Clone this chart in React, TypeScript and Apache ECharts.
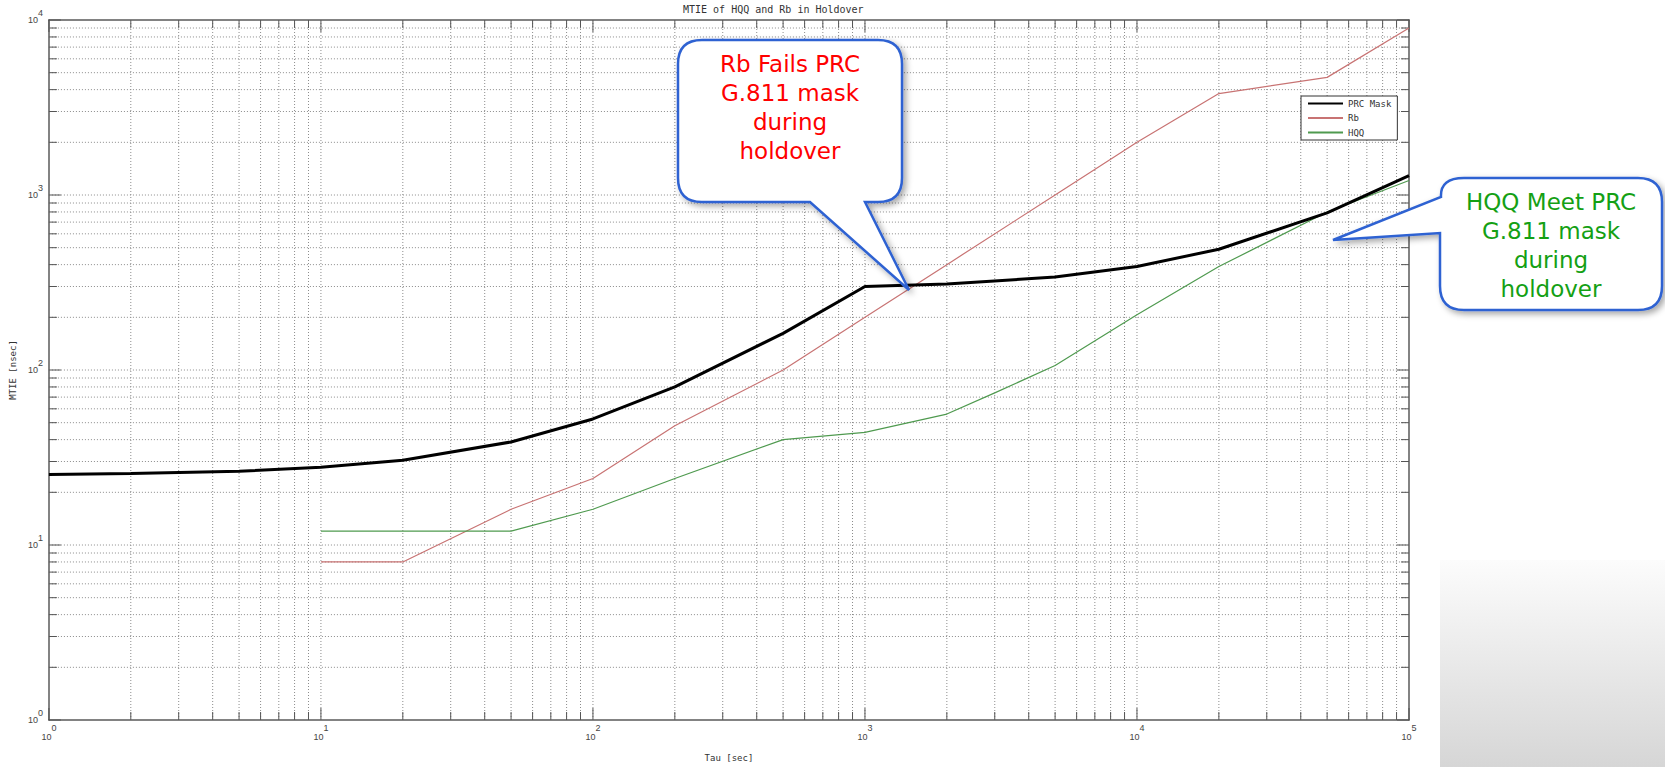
import { useEffect, useRef } from "react";
import * as echarts from "echarts";

// ---- data ----
const PRC_TAU = [1, 2, 5, 10, 20, 50, 100, 200, 500, 1000, 2000, 5000, 10000, 20000, 50000, 100000];
const PRC_MTIE = [25.3, 25.6, 26.4, 27.8, 30.5, 38.8, 52.5, 80, 162, 300, 310, 340, 390, 490, 790, 1290];

const RB_TAU = [10, 20, 50, 100, 200, 500, 1000, 2000, 5000, 10000, 20000, 50000, 100000];
const RB_MTIE = [8, 8, 16, 24, 48, 100, 200, 400, 1000, 2000, 3800, 4700, 9000];

const HQQ_TAU = [10, 20, 50, 100, 200, 500, 1000, 2000, 3000, 5000, 10000, 20000, 50000, 100000];
const HQQ_MTIE = [12, 12, 12, 16, 24, 40, 44, 56, 74, 106, 207, 390, 800, 1210];

const SERIES_NAMES = ["PRC Mask", "Rb", "HQQ"];

// axis decades and minor steps (log grid)
const X_DECADES = [1, 10, 100, 1000, 10000, 100000];
const Y_DECADES = [1, 10, 100, 1000, 10000];
const MINOR_STEPS = [2, 3, 4, 5, 6, 7, 8, 9];

const TITLE = "MTIE of HQQ and Rb in Holdover";
const X_NAME = "Tau [sec]";
const Y_NAME = "MTIE [nsec]";
const CALLOUT_RB = "Rb Fails PRC\nG.811 mask\nduring\nholdover";
const CALLOUT_HQQ = "HQQ Meet PRC\nG.811 mask\nduring\nholdover";

const pairs = (xs: number[], ys: number[]) => xs.map((x, i) => [x, ys[i]]);

const CALLOUT1_D =
  "M702,40 L878,40 Q902,40 902,64 L902,178 Q902,202 878,202 L865,202 L909,290 L810,202 L702,202 Q678,202 678,178 L678,64 Q678,40 702,40 Z";
const CALLOUT2_D =
  "M1464,178 L1638,178 Q1662,178 1662,202 L1662,286 Q1662,310 1638,310 L1464,310 Q1440,310 1440,286 L1440,233 L1333,240 L1441,197 Q1440,178 1464,178 Z";

let registered = false;
function registerShapes() {
  if (registered) return;
  registered = true;
  echarts.graphic.registerShape("callout1", echarts.graphic.extendPath(CALLOUT1_D, {}) as any);
  echarts.graphic.registerShape("callout2", echarts.graphic.extendPath(CALLOUT2_D, {}) as any);
}

export default function App() {
  const ref = useRef<HTMLDivElement>(null);

  useEffect(() => {
    document.body.style.margin = "0";
    registerShapes();
    const chart = echarts.init(ref.current!, null, { renderer: "svg" });

    const mono = "'DejaVu Sans Mono', monospace";
    const tickFont = "'Liberation Sans', Arial, sans-serif";
    const axisLineStyle = { color: "#5a5a5a", width: 1.5 };

    const expFormatter = (v: number) => `{b|10}{e|${Math.round(Math.log10(v))}}`;

    const gridStyle = { stroke: "#8c8c8c", lineWidth: 1, lineDash: [1, 2], fill: null };
    const tickStyle = { stroke: "#555", lineWidth: 1, fill: null };

    const renderGrid = (_params: any, api: any) => {
      const children: any[] = [];
      const [xl, yb] = api.coord([X_DECADES[0], Y_DECADES[0]]);
      const [xr, yt] = api.coord([X_DECADES[X_DECADES.length - 1], Y_DECADES[Y_DECADES.length - 1]]);
      const xMax = X_DECADES[X_DECADES.length - 1];
      const yMax = Y_DECADES[Y_DECADES.length - 1];
      const xs: [number, boolean][] = [];
      X_DECADES.forEach((d) => {
        xs.push([d, true]);
        if (d < xMax) MINOR_STEPS.forEach((m) => xs.push([d * m, false]));
      });
      const ys: [number, boolean][] = [];
      Y_DECADES.forEach((d) => {
        ys.push([d, true]);
        if (d < yMax) MINOR_STEPS.forEach((m) => ys.push([d * m, false]));
      });
      xs.forEach(([v, major]) => {
        const px = api.coord([v, Y_DECADES[0]])[0];
        const L = major ? 12 : 8;
        if (v !== X_DECADES[0] && v !== xMax) {
          children.push({ type: "line", shape: { x1: px, y1: yb, x2: px, y2: yt }, style: gridStyle, silent: true });
        }
        children.push({ type: "line", shape: { x1: px, y1: yb, x2: px, y2: yb - L }, style: tickStyle, silent: true });
        children.push({ type: "line", shape: { x1: px, y1: yt, x2: px, y2: yt + L }, style: tickStyle, silent: true });
      });
      ys.forEach(([v, major]) => {
        const py = api.coord([X_DECADES[0], v])[1];
        const L = major ? 12 : 8;
        if (v !== Y_DECADES[0] && v !== yMax) {
          children.push({ type: "line", shape: { x1: xl, y1: py, x2: xr, y2: py }, style: gridStyle, silent: true });
        }
        children.push({ type: "line", shape: { x1: xl, y1: py, x2: xl + L, y2: py }, style: tickStyle, silent: true });
        children.push({ type: "line", shape: { x1: xr, y1: py, x2: xr - L, y2: py }, style: tickStyle, silent: true });
      });
      return { type: "group", children };
    };

    const option: any = {
      animation: false,
      backgroundColor: "#ffffff",
      title: {
        text: TITLE,
        left: 683,
        top: 4,
        padding: 0,
        textStyle: { fontFamily: mono, fontSize: 10, fontWeight: "normal", color: "#333" },
      },
      legend: {
        data: SERIES_NAMES,
        orient: "vertical",
        left: 1301,
        top: 96,
        padding: [3, 6, 3, 6],
        itemWidth: 35,
        itemHeight: 10,
        itemGap: 5.5,
        borderColor: "#333",
        borderWidth: 1,
        backgroundColor: "#fff",
        itemStyle: { opacity: 0 },
        textStyle: { fontFamily: mono, fontSize: 9, color: "#333" },
      },
      grid: { left: 46, top: 20, width: 1363, height: 705, containLabel: false },
      xAxis: [
        {
          type: "log",
          logBase: 10,
          min: 1,
          max: 100000,
          position: "bottom",
          name: X_NAME,
          nameLocation: "middle",
          nameGap: 33,
          nameTextStyle: { fontFamily: mono, fontSize: 9, color: "#333" },
          axisLine: { show: true, lineStyle: axisLineStyle },
          axisTick: { show: false },
          splitLine: { show: false },
          minorTick: { show: false },
          axisLabel: {
            margin: 3,
            formatter: expFormatter,
            rich: {
              b: { fontFamily: tickFont, fontSize: 9, color: "#444", lineHeight: 28, verticalAlign: "middle" },
              e: { fontFamily: tickFont, fontSize: 9, color: "#444", verticalAlign: "top" },
            },
          },
        },
        {
          type: "log",
          logBase: 10,
          min: 1,
          max: 100000,
          position: "top",
          axisLine: { show: true, lineStyle: axisLineStyle },
          axisTick: { show: false },
          axisLabel: { show: false },
          splitLine: { show: false },
        },
      ],
      yAxis: [
        {
          type: "log",
          logBase: 10,
          min: 1,
          max: 10000,
          position: "left",
          name: Y_NAME,
          nameLocation: "middle",
          nameGap: 26,
          nameTextStyle: { fontFamily: mono, fontSize: 9, color: "#333" },
          axisLine: { show: true, lineStyle: axisLineStyle },
          axisTick: { show: false },
          splitLine: { show: false },
          minorTick: { show: false },
          axisLabel: {
            margin: 6,
            formatter: expFormatter,
            rich: {
              b: { fontFamily: tickFont, fontSize: 9, color: "#444", lineHeight: 24, verticalAlign: "middle" },
              e: { fontFamily: tickFont, fontSize: 9, color: "#444", verticalAlign: "top" },
            },
          },
        },
        {
          type: "log",
          logBase: 10,
          min: 1,
          max: 10000,
          position: "right",
          axisLine: { show: true, lineStyle: axisLineStyle },
          axisTick: { show: false },
          axisLabel: { show: false },
          splitLine: { show: false },
        },
      ],
      series: [
        {
          type: "custom",
          name: "grid",
          xAxisIndex: 0,
          yAxisIndex: 0,
          silent: true,
          z: 1,
          data: [[X_DECADES[0], Y_DECADES[0]]],
          renderItem: renderGrid,
        },
        {
          type: "line",
          name: SERIES_NAMES[0],
          data: pairs(PRC_TAU, PRC_MTIE),
          symbol: "none",
          showSymbol: false,
          z: 5,
          lineStyle: { color: "#000000", width: 3 },
          itemStyle: { color: "#000000" },
        },
        {
          type: "line",
          name: SERIES_NAMES[1],
          data: pairs(RB_TAU, RB_MTIE),
          symbol: "none",
          showSymbol: false,
          z: 4,
          lineStyle: { color: "#c87373", width: 1.2 },
          itemStyle: { color: "#c87373" },
        },
        {
          type: "line",
          name: SERIES_NAMES[2],
          data: pairs(HQQ_TAU, HQQ_MTIE),
          symbol: "none",
          showSymbol: false,
          z: 4,
          lineStyle: { color: "#4f9a4f", width: 1.2 },
          itemStyle: { color: "#4f9a4f" },
        },
      ],
      graphic: [
        {
          type: "rect",
          z: 0,
          silent: true,
          shape: { x: 1440, y: 560, width: 225, height: 207 },
          style: {
            fill: new echarts.graphic.LinearGradient(0, 0, 0, 1, [
              { offset: 0, color: "#fcfcfc" },
              { offset: 1, color: "#d6d6d6" },
            ]),
          },
        },
        {
          type: "callout1",
          x: 0,
          y: 0,
          z: 100,
          silent: true,
          style: {
            fill: "#ffffff",
            stroke: "#2f62d2",
            lineWidth: 2.5,
            shadowBlur: 6,
            shadowOffsetX: 3,
            shadowOffsetY: 3,
            shadowColor: "rgba(0,0,0,0.35)",
          },
        },
        {
          type: "text",
          z: 101,
          silent: true,
          x: 790,
          y: 49,
          style: {
            text: CALLOUT_RB,
            fill: "#ff0000",
            font: "23px 'DejaVu Sans', Verdana, sans-serif",
            align: "center",
            verticalAlign: "top",
            lineHeight: 29,
          },
        },
        {
          type: "callout2",
          x: 0,
          y: 0,
          z: 100,
          silent: true,
          style: {
            fill: "#ffffff",
            stroke: "#2f62d2",
            lineWidth: 2.5,
            shadowBlur: 6,
            shadowOffsetX: 3,
            shadowOffsetY: 3,
            shadowColor: "rgba(0,0,0,0.35)",
          },
        },
        {
          type: "text",
          z: 101,
          silent: true,
          x: 1551,
          y: 187,
          style: {
            text: CALLOUT_HQQ,
            fill: "#14a014",
            font: "23px 'DejaVu Sans', Verdana, sans-serif",
            align: "center",
            verticalAlign: "top",
            lineHeight: 29,
          },
        },
      ],
    };

    chart.setOption(option);
    return () => chart.dispose();
  }, []);

  return (
    <div
      ref={ref}
      style={{ position: "fixed", left: 0, top: 0, width: 1665, height: 767, background: "#fff" }}
    />
  );
}
